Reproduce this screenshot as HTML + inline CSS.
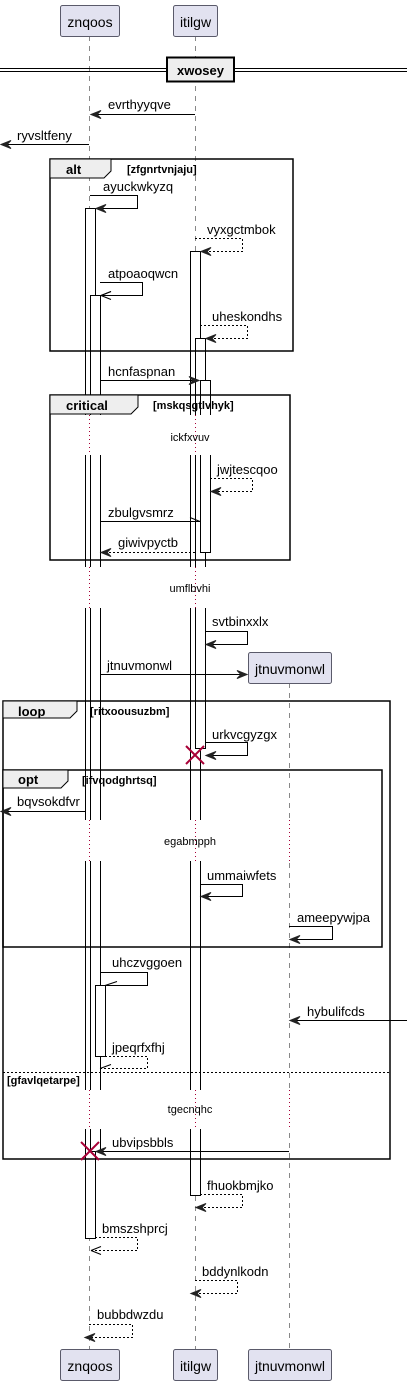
<!DOCTYPE html>
<html><head><meta charset="utf-8"><style>
html,body{margin:0;padding:0;background:#fff;}
svg{display:block;}
text{font-family:"Liberation Sans",sans-serif;}
.m{font-size:13px;fill:#000;}
.b{font-size:12px;font-weight:bold;fill:#000;}
.d{font-size:11px;fill:#000;}
</style></head><body>
<svg width="407" height="1385" viewBox="0 0 407 1385" xmlns="http://www.w3.org/2000/svg">
<!-- lifelines -->
<g stroke="#888" stroke-width="1" stroke-dasharray="5,5">
<line x1="89.5" y1="36" x2="89.5" y2="1349"/>
<line x1="195.5" y1="36" x2="195.5" y2="1349"/>
<line x1="289.5" y1="683" x2="289.5" y2="1349"/>
</g>
<!-- activations -->
<g fill="#fff" stroke="#000" stroke-width="1">
<rect x="85.5" y="208.5" width="10" height="1030"/>
<rect x="90.5" y="295.5" width="10" height="856"/>
<rect x="95.5" y="985.5" width="10" height="71"/>
<rect x="190.5" y="251.5" width="10" height="944"/>
<rect x="195.5" y="338.5" width="10" height="410"/>
<rect x="200.5" y="380.5" width="10" height="172"/>
</g>
<!-- delay gaps -->
<g fill="#fff">
<rect x="80" y="415" width="140" height="40"/>
<rect x="80" y="567" width="140" height="41"/>
<rect x="80" y="820" width="140" height="41"/>
<rect x="284" y="820" width="12" height="41"/>
<rect x="80" y="1090" width="140" height="39"/>
<rect x="284" y="1090" width="12" height="39"/>
</g>
<g stroke="#a80036" stroke-width="1" stroke-dasharray="1,3">
<line x1="89.5" y1="415" x2="89.5" y2="455"/><line x1="195.5" y1="415" x2="195.5" y2="455"/>
<line x1="89.5" y1="567" x2="89.5" y2="608"/><line x1="195.5" y1="567" x2="195.5" y2="608"/>
<line x1="89.5" y1="820" x2="89.5" y2="861"/><line x1="195.5" y1="820" x2="195.5" y2="861"/><line x1="289.5" y1="820" x2="289.5" y2="861"/>
<line x1="89.5" y1="1090" x2="89.5" y2="1129"/><line x1="195.5" y1="1090" x2="195.5" y2="1129"/><line x1="289.5" y1="1090" x2="289.5" y2="1129"/>
</g>
<text class="d" x="190" y="441" text-anchor="middle">ickfxvuv</text>
<text class="d" x="190" y="592" text-anchor="middle">umflbvhi</text>
<text class="d" x="190" y="845" text-anchor="middle">egabmpph</text>
<text class="d" x="190" y="1113" text-anchor="middle">tgecnqhc</text>

<!-- participant boxes -->
<g fill="#e2e2f0" stroke="#5a5a6a" stroke-width="1">
<rect x="60.5" y="5.5" width="59" height="31" rx="2"/>
<rect x="173.5" y="5.5" width="44" height="31" rx="2"/>
<rect x="60.5" y="1349.5" width="59" height="31" rx="2"/>
<rect x="173.5" y="1349.5" width="44" height="31" rx="2"/>
<rect x="248.5" y="652.5" width="83" height="31" rx="2"/>
<rect x="248.5" y="1349.5" width="83" height="31" rx="2"/>
</g>
<g style="font-size:14px">
<text x="90" y="27" text-anchor="middle">znqoos</text>
<text x="195.5" y="27" text-anchor="middle">itilgw</text>
<text x="90" y="1371" text-anchor="middle">znqoos</text>
<text x="195.5" y="1371" text-anchor="middle">itilgw</text>
<text x="290" y="674" text-anchor="middle">jtnuvmonwl</text>
<text x="290" y="1371" text-anchor="middle">jtnuvmonwl</text>
</g>

<!-- divider -->
<line x1="0" y1="68.5" x2="407" y2="68.5" stroke="#000"/>
<line x1="0" y1="71.5" x2="407" y2="71.5" stroke="#000"/>
<rect x="167" y="57.5" width="67" height="24" fill="#eee" stroke="#000" stroke-width="2"/>
<text class="b" x="200.5" y="75" text-anchor="middle" style="font-size:13px">xwosey</text>

<!-- frames -->
<g fill="none" stroke="#000" stroke-width="1.5">
<rect x="50" y="159" width="243" height="192"/>
<rect x="50" y="395" width="240" height="165"/>
<rect x="3" y="701" width="387" height="458"/>
<rect x="3" y="770" width="379" height="177"/>
</g>
<g fill="#eee" stroke="#000" stroke-width="1">
<polygon points="50,159 111,159 111,171 104,178 50,178"/>
<polygon points="50,395 138,395 138,407 131,414 50,414"/>
<polygon points="3,701 77,701 77,711 70,718 3,718"/>
<polygon points="3,770 68,770 68,781 61,788 3,788"/>
</g>
<text class="b" x="66" y="174" style="font-size:13px">alt</text>
<text class="b" x="127" y="173" style="font-size:11px">[zfgnrtvnjaju]</text>
<text class="b" x="66" y="410" style="font-size:13px">critical</text>
<text class="b" x="153" y="409" style="font-size:11px">[mskqsgtlvhyk]</text>
<text class="b" x="18" y="716" style="font-size:13px">loop</text>
<text class="b" x="90" y="715" style="font-size:11px">[ritxoousuzbm]</text>
<text class="b" x="18" y="784" style="font-size:13px">opt</text>
<text class="b" x="82" y="784" style="font-size:11px">[ifvqodghrtsq]</text>
<line x1="3" y1="1072.5" x2="390" y2="1072.5" stroke="#000" stroke-dasharray="2,2"/>
<text class="b" x="7" y="1084" style="font-size:11px">[gfavlqetarpe]</text>

<!-- messages -->
<g stroke="#000" stroke-width="1" fill="none">
<line x1="195" y1="114.5" x2="92" y2="114.5"/>
<line x1="89" y1="144.5" x2="2" y2="144.5"/>
<polyline points="90,195.5 137.5,195.5 137.5,208.5 97,208.5"/>
<polyline points="195,238.5 242.5,238.5 242.5,251.5 202,251.5" stroke-dasharray="2,2"/>
<polyline points="100,282.5 142.5,282.5 142.5,295.5 102,295.5"/>
<polyline points="101,295.5 111,291.5 M101,295.5 111,299.5"/>
<path d="M101,295.5 L111,291.5 M101,295.5 L111,299.5"/>
<polyline points="200,325.5 247.5,325.5 247.5,338.5 207,338.5" stroke-dasharray="2,2"/>
<line x1="100" y1="380.5" x2="198" y2="380.5"/>
<polyline points="210,478.5 252.5,478.5 252.5,491.5 212,491.5" stroke-dasharray="2,2"/>
<line x1="100" y1="521.5" x2="200" y2="521.5"/>
<line x1="190" y1="517.5" x2="200" y2="521.5"/>
<line x1="195" y1="552.5" x2="102" y2="552.5" stroke-dasharray="2,2"/>
<polyline points="205,631.5 247.5,631.5 247.5,644.5 207,644.5"/>
<line x1="100" y1="674.5" x2="246" y2="674.5"/>
<polyline points="205,742.5 247.5,742.5 247.5,755.5 207,755.5"/>
<line x1="85" y1="811.5" x2="2" y2="811.5"/>
<polyline points="200,884.5 242.5,884.5 242.5,896.5 202,896.5"/>
<polyline points="289,926.5 332.5,926.5 332.5,939.5 291,939.5"/>
<polyline points="100,972.5 147.5,972.5 147.5,985.5 105,985.5"/>
<line x1="105" y1="985.5" x2="117" y2="981.5"/>
<line x1="407" y1="1020.5" x2="292" y2="1020.5"/>
<polyline points="105,1056.5 147.5,1056.5 147.5,1068.5 100,1068.5" stroke-dasharray="2,2"/>
<line x1="100" y1="1068.5" x2="111" y2="1064.5"/>
<line x1="289" y1="1151.5" x2="97" y2="1151.5"/>
<polyline points="200,1194.5 242.5,1194.5 242.5,1207.5 197,1207.5" stroke-dasharray="2,2"/>
<polyline points="95,1237.5 137.5,1237.5 137.5,1250.5 91,1250.5" stroke-dasharray="2,2"/>
<path d="M91,1250.5 L101,1246.5 M91,1250.5 L101,1254.5"/>
<polyline points="195,1280.5 237.5,1280.5 237.5,1293.5 192,1293.5" stroke-dasharray="2,2"/>
<polyline points="89,1324.5 132.5,1324.5 132.5,1337.5 86,1337.5" stroke-dasharray="2,2"/>
</g>
<!-- filled arrowheads -->
<g fill="#222" stroke="#222" stroke-width="1">
<polygon points="91,114.5 101,110.5 97,114.5 101,118.5"/>
<polygon points="1,144.5 11,140.5 7,144.5 11,148.5"/>
<polygon points="96,208.5 106,204.5 102,208.5 106,212.5"/>
<polygon points="201,251.5 211,247.5 207,251.5 211,255.5"/>
<polygon points="206,338.5 216,334.5 212,338.5 216,342.5"/>
<polygon points="199,380.5 189,376.5 193,380.5 189,384.5"/>
<polygon points="211,491.5 221,487.5 217,491.5 221,495.5"/>
<polygon points="101,552.5 111,548.5 107,552.5 111,556.5"/>
<polygon points="206,644.5 216,640.5 212,644.5 216,648.5"/>
<polygon points="247,674.5 237,670.5 241,674.5 237,678.5"/>
<polygon points="206,755.5 216,751.5 212,755.5 216,759.5"/>
<polygon points="1,811.5 11,807.5 7,811.5 11,815.5"/>
<polygon points="201,896.5 211,892.5 207,896.5 211,900.5"/>
<polygon points="290,939.5 300,935.5 296,939.5 300,943.5"/>
<polygon points="290,1020.5 300,1016.5 296,1020.5 300,1024.5"/>
<polygon points="96,1151.5 106,1147.5 102,1151.5 106,1155.5"/>
<polygon points="196,1207.5 206,1203.5 202,1207.5 206,1211.5"/>
<polygon points="191,1293.5 201,1289.5 197,1293.5 201,1297.5"/>
<polygon points="85,1337.5 95,1333.5 91,1337.5 95,1341.5"/>
</g>
<!-- destroy marks -->
<g stroke="#a80036" stroke-width="2">
<line x1="186" y1="746" x2="204" y2="764"/><line x1="204" y1="746" x2="186" y2="764"/>
<line x1="81" y1="1142" x2="99" y2="1160"/><line x1="99" y1="1142" x2="81" y2="1160"/>
</g>
<!-- labels -->
<g class="m">
<text x="108" y="109">evrthyyqve</text>
<text x="17" y="140">ryvsltfeny</text>
<text x="103" y="191">ayuckwkyzq</text>
<text x="207" y="234">vyxgctmbok</text>
<text x="108" y="278">atpoaoqwcn</text>
<text x="212" y="321">uheskondhs</text>
<text x="108" y="376">hcnfaspnan</text>
<text x="217" y="474">jwjtescqoo</text>
<text x="108" y="517">zbulgvsmrz</text>
<text x="118" y="547">giwivpyctb</text>
<text x="212" y="626">svtbinxxlx</text>
<text x="107" y="670">jtnuvmonwl</text>
<text x="212" y="739">urkvcgyzgx</text>
<text x="17" y="806">bqvsokdfvr</text>
<text x="207" y="880">ummaiwfets</text>
<text x="297" y="922">ameepywjpa</text>
<text x="112" y="967">uhczvggoen</text>
<text x="307" y="1016">hybulifcds</text>
<text x="112" y="1052">jpeqrfxfhj</text>
<text x="112" y="1147">ubvipsbbls</text>
<text x="207" y="1190">fhuokbmjko</text>
<text x="102" y="1233">bmszshprcj</text>
<text x="202" y="1276">bddynlkodn</text>
<text x="97" y="1319">bubbdwzdu</text>
</g>
</svg>
</body></html>
